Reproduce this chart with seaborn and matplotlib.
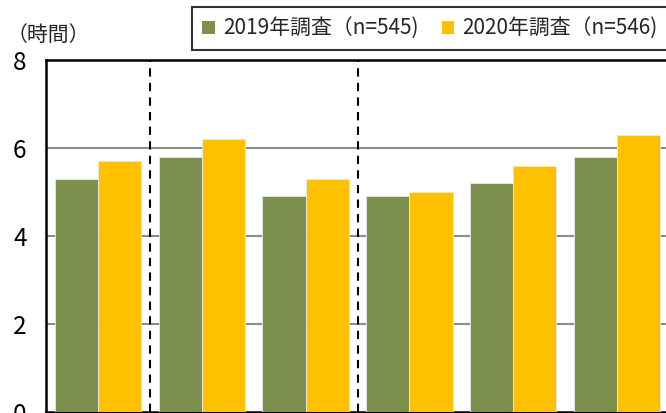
import matplotlib
matplotlib.use("Agg")
import matplotlib.pyplot as plt
import pandas as pd
import seaborn as sns

# values (hours)
categories = ["A", "B", "C", "D", "E", "F"]
years = ["2019年調査（n=545)", "2020年調査（n=546)"]
v2019 = [5.3, 5.8, 4.9, 4.9, 5.2, 5.8]
v2020 = [5.7, 6.2, 5.3, 5.0, 5.6, 6.3]
yticks = [0, 2, 4, 6, 8]

df = pd.DataFrame({
    "cat": categories * 2,
    "year": [years[0]] * len(categories) + [years[1]] * len(categories),
    "hours": v2019 + v2020,
})

sns.set_theme(style="white")
plt.rcParams["font.family"] = ["Noto Sans CJK JP", "DejaVu Sans"]

fig = plt.figure(figsize=(6.66, 4.13), dpi=100)
ax = fig.add_axes([46 / 666, 1 / 413, 623 / 666, 352 / 413])

sns.barplot(data=df, x="cat", y="hours", hue="year", ax=ax,
            palette=["#7D8F4C", "#FFC000"], saturation=1, width=0.83,
            edgecolor="#E8E8E8", linewidth=0.6, zorder=3)

ax.set_ylim(0, 8)
ax.set_xlim(-0.5, len(categories) - 0.5)
ax.set_yticks(yticks)
ax.set_yticklabels([str(t) for t in yticks], fontsize=17.5)
ax.tick_params(axis="y", direction="in", length=7, width=1.5, pad=14, colors="black")
ax.set_xticks([])
ax.set_xticks([i + 0.5 for i in range(len(categories) - 1)], minor=True)
ax.tick_params(axis="x", which="minor", direction="in", length=6, width=1.5, colors="black")
ax.set_xlabel("")
ax.set_ylabel("")

for y in yticks[1:-1]:
    ax.axhline(y, color="#8C8C8C", linewidth=1.5, zorder=1)
for x in [0.5, 2.5]:
    ax.axvline(x, color="black", linewidth=1.5, linestyle=(0, (4, 3)), zorder=2)

for side in ["left", "top", "bottom", "right"]:
    ax.spines[side].set_color("black")
    ax.spines[side].set_linewidth(1.8)

fig.text(7 / 666, 1 - 35 / 413, "（時間）", fontsize=15, va="center", ha="left")

leg = ax.legend(loc="upper left", bbox_to_anchor=(192 / 666, 1 - 7 / 413),
                bbox_transform=fig.transFigure, ncol=2, fontsize=15,
                frameon=True, fancybox=False, edgecolor="black",
                handlelength=0.6, handleheight=0.6, handletextpad=0.4,
                columnspacing=1.1, borderpad=0.5, borderaxespad=0)
leg.get_frame().set_linewidth(1.5)
for h in leg.legend_handles:
    h.set_edgecolor("none")

fig.savefig("out.png", dpi=100)
